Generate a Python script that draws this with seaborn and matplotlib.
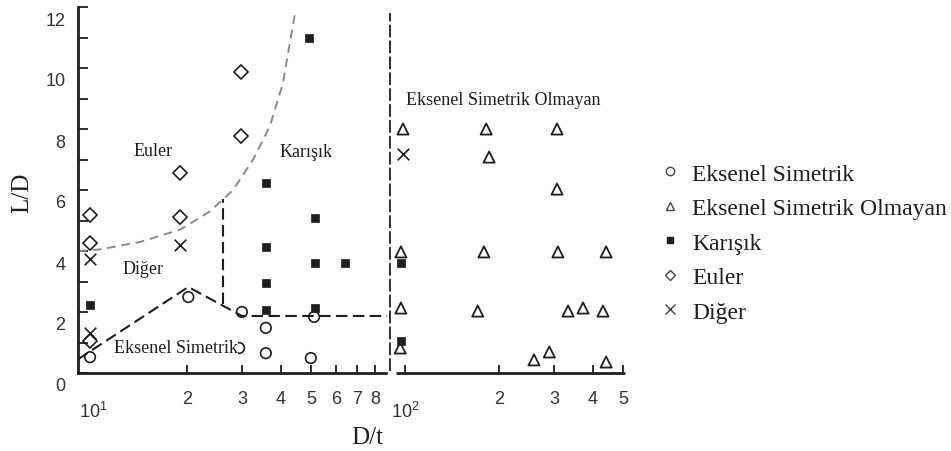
import matplotlib
matplotlib.use("Agg")
import matplotlib.pyplot as plt
import matplotlib.ticker as mticker
import matplotlib.transforms as mtransforms
from matplotlib.lines import Line2D
import seaborn as sns
import pandas as pd

# ---------------- data ----------------
es_x = [9.78, 20.2, 30.0, 35.8, 35.8, 51.1, 49.9, 29.4]
es_y = [0.52, 2.49, 2.0, 1.48, 0.65, 1.84, 0.49, 0.82]

nes_x = [98.5, 182, 307, 186, 307, 97, 179, 309, 441, 97, 171, 333, 372, 431, 96.5, 259, 290, 441]
nes_y = [8.0, 8.0, 8.0, 7.08, 6.03, 3.97, 3.97, 3.97, 3.97, 2.13, 2.03, 2.03, 2.13, 2.03, 0.82, 0.43, 0.69, 0.36]

kar_x = [9.8, 49.3, 35.8, 35.8, 35.8, 35.8, 51.5, 51.5, 64.3, 51.5, 97, 97]
kar_y = [2.23, 11.0, 6.23, 4.13, 2.95, 2.07, 5.08, 3.6, 3.6, 2.13, 3.6, 1.05]

eul_x = [9.78, 9.78, 19.0, 19.0, 29.8, 29.8, 9.78]
eul_y = [5.18, 4.26, 6.56, 5.11, 9.87, 7.77, 1.05]

dig_x = [9.78, 19.0, 9.78, 98.5]
dig_y = [3.74, 4.2, 1.31, 7.18]

# boundary lines
euler_curve_x = [8.95, 10.5, 14.2, 19.0, 23.7, 28.1, 32.6, 36.9, 40.6, 44.4]
euler_curve_y = [4.0, 4.05, 4.3, 4.7, 5.3, 6.0, 7.0, 8.1, 9.5, 11.8]
lower_x = [8.95, 20.2, 30.0, 87.6]
lower_y = [0.45, 2.82, 1.87, 1.87]
short_v_x = [26.1, 26.1]
short_v_y = [2.25, 5.7]
long_v_x = [89.6, 89.6]
long_v_y = [0.05, 11.8]

labels = ["Eksenel Simetrik", "Eksenel Simetrik Olmayan", "Karışık", "Euler", "Diğer"]
minor_ticks = [20, 30, 40, 50, 60, 70, 80, 100, 200, 300, 400, 500]
minor_labels = ["2", "3", "4", "5", "6", "7", "8", "", "2", "3", "4", "5"]
major_ticks = [10, 100]
major_labels = [r"$\mathregular{10^1}$", r"$\mathregular{10^2}$"]
y_ticks = [0, 2, 4, 6, 8, 10, 12]

# ---------------- style ----------------
sns.set_style("white")
plt.rcParams["font.family"] = ["Liberation Serif", "DejaVu Serif"]
plt.rcParams["mathtext.fontset"] = "custom"
plt.rcParams["mathtext.rm"] = "Liberation Sans"
plt.rcParams["mathtext.default"] = "regular"

INK = "#1e1e1e"
fig = plt.figure(figsize=(9.51, 4.52), dpi=100)
W, H = 951, 452
ax = fig.add_axes([78 / W, (H - 374) / H, (625 - 78) / W, (374 - 8) / H])
ax.set_xscale("log")
ax.set_xlim(8.95, 507)
ax.set_ylim(0, 12)

# boundary lines
sns.lineplot(x=euler_curve_x, y=euler_curve_y, sort=False, estimator=None, ax=ax,
             color="#8a8a8a", lw=1.4, linestyle=(0, (4.5, 3.0)), zorder=2)
for lx, ly in [(lower_x, lower_y), (short_v_x, short_v_y)]:
    sns.lineplot(x=lx, y=ly, sort=False, estimator=None, ax=ax,
                 color=INK, lw=1.5, linestyle=(0, (5.5, 2.6)), zorder=2)
sns.lineplot(x=long_v_x, y=long_v_y, sort=False, estimator=None, ax=ax,
             color=INK, lw=1.3, linestyle=(0, (7, 1.8)), zorder=2)

# points
sns.scatterplot(x=es_x, y=es_y, marker="o", s=58, facecolor="none", edgecolor=INK,
                linewidth=1.2, ax=ax, zorder=3)
sns.scatterplot(x=nes_x, y=nes_y, marker="^", s=64, facecolor="none", edgecolor=INK,
                linewidth=1.3, ax=ax, zorder=3)
sns.scatterplot(x=kar_x, y=kar_y, marker="s", s=30, color=INK, edgecolor=INK,
                linewidth=0.5, ax=ax, zorder=3)
sns.scatterplot(x=eul_x, y=eul_y, marker="D", s=52, facecolor="none", edgecolor=INK,
                linewidth=1.2, ax=ax, zorder=3)
sns.scatterplot(x=dig_x, y=dig_y, marker="x", s=70, color=INK, linewidth=1.2,
                ax=ax, zorder=3)

# region annotations
tkw = dict(fontsize=13, color=INK, va="center")
ax.text(15.6, 7.3, "Euler", ha="center", **tkw)
ax.text(48.2, 7.25, "Karışık", ha="center", **tkw)
ax.text(14.5, 3.44, "Diğer", ha="center", **tkw)
ax.text(29.1, 0.85, "Eksenel Simetrik", ha="right", zorder=4,
        bbox=dict(facecolor="white", edgecolor="none", pad=0.5), **tkw)
ax.text(207, 8.98, "Eksenel Simetrik Olmayan", ha="center", **tkw)

# axes / spines
for s in ["top", "right"]:
    ax.spines[s].set_visible(False)
ax.spines["left"].set_linewidth(2.0)
ax.spines["left"].set_color(INK)
ax.spines["bottom"].set_linewidth(2.0)
ax.spines["bottom"].set_color(INK)
ax.spines["bottom"].set_bounds(8.95, 87.0)
ax.plot([93.5, 507], [0, 0], color=INK, lw=2.0, clip_on=False, zorder=2,
        solid_capstyle="butt")

ax.xaxis.remove_overlapping_locs = False
ax.xaxis.set_major_locator(mticker.FixedLocator(major_ticks))
ax.xaxis.set_major_formatter(mticker.FixedFormatter(major_labels))
ax.xaxis.set_minor_locator(mticker.FixedLocator(minor_ticks))
ax.xaxis.set_minor_formatter(mticker.FixedFormatter(minor_labels))
ax.tick_params(axis="x", which="major", bottom=True, direction="in", length=0, pad=20,
               labelsize=13, labelcolor="#333333")
ax.tick_params(axis="x", which="minor", bottom=True, direction="in", length=6, width=1.3,
               color=INK, pad=12, labelsize=13, labelcolor="#333333")

ax.yaxis.set_major_locator(mticker.FixedLocator(y_ticks))
ax.yaxis.set_minor_locator(mticker.MultipleLocator(1))
ax.tick_params(axis="y", which="both", left=True, direction="in", length=7, width=1.3,
               color=INK, pad=9, labelsize=13, labelcolor="#333333")
for lab in ax.get_xticklabels(which="both") + ax.get_yticklabels():
    lab.set_fontfamily(["Liberation Sans", "DejaVu Sans"])
offset = mtransforms.ScaledTranslation(0, -0.11, fig.dpi_scale_trans)
for lab in ax.get_yticklabels():
    lab.set_transform(lab.get_transform() + offset)

ax.set_xlabel("D/t", fontsize=18, color=INK)
ax.set_ylabel("L/D", fontsize=18, color=INK)
ax.xaxis.set_label_coords(0.528, -0.145)
ax.yaxis.set_label_coords(-0.082, 0.495)

# legend
handles = [
    Line2D([], [], ls="none", marker="o", ms=6, mfc="none", mec="#444", mew=1.0),
    Line2D([], [], ls="none", marker="^", ms=6, mfc="none", mec="#444", mew=1.0),
    Line2D([], [], ls="none", marker="s", ms=4.5, mfc=INK, mec=INK),
    Line2D([], [], ls="none", marker="D", ms=5.5, mfc="none", mec="#444", mew=1.0),
    Line2D([], [], ls="none", marker="x", ms=7, mec="#444", mew=1.0),
]
fig.legend(handles, labels, loc="upper left", bbox_to_anchor=(0.692, 0.637),
           frameon=False, fontsize=17, handlelength=1.0, handletextpad=0.45,
           labelspacing=0.55, borderaxespad=0, borderpad=0, labelcolor=INK)

fig.savefig("out.png", dpi=100)
